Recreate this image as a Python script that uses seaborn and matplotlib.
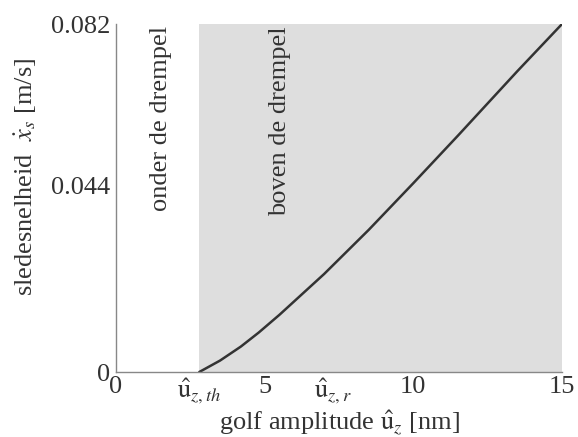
import matplotlib
matplotlib.use("Agg")
import matplotlib.pyplot as plt
import seaborn as sns
import pandas as pd

# curve
amplitude_nm = [2.8, 3.5, 4.2, 4.8, 5.5, 7.0, 8.5, 10.0, 11.5, 13.5, 15.0]
speed_ms = [0.0, 0.0027, 0.0060, 0.0093, 0.0135, 0.0231, 0.0335, 0.0445, 0.0557, 0.0709, 0.082]

threshold = 2.8
resonance = 7.3
x_max = 15
y_max = 0.082

x_ticks = [0, threshold, 5, resonance, 10, 15]
x_tick_labels = ["0", r"$\hat{\mathrm{u}}_{z,th}$", "5", r"$\hat{\mathrm{u}}_{z,r}$", "10", "15"]
y_ticks = [0, 0.044, 0.082]
y_tick_labels = ["0", "0.044", "0.082"]

sns.set_style("white")
plt.rcParams["font.family"] = ["Liberation Serif", "DejaVu Serif"]
plt.rcParams["mathtext.fontset"] = "stix"

df = pd.DataFrame({"amp": amplitude_nm, "speed": speed_ms})

fig = plt.figure(figsize=(5.78, 4.37), dpi=100)
ax = fig.add_axes([0.2007, 0.1487, 0.7716, 0.7963])

# region above threshold
ax.axvspan(threshold, x_max, color="#dedede", zorder=0, lw=0)

sns.lineplot(data=df, x="amp", y="speed", ax=ax, color="#333333", lw=1.8)

fs = 19
ax.set_xlim(0, x_max)
ax.set_ylim(0, y_max)
ax.set_xticks(x_ticks)
ax.set_xticklabels(x_tick_labels, fontsize=fs)
ax.set_yticks(y_ticks)
ax.set_yticklabels(y_tick_labels, fontsize=fs, color="#333333")
for lbl in ax.get_xticklabels():
    lbl.set_color("#333333")

ax.tick_params(axis="both", length=3, color="#999999", direction="out", pad=1)
ax.tick_params(axis="x", length=0, pad=3)

for side in ["top", "right"]:
    ax.spines[side].set_visible(False)
for side in ["left", "bottom"]:
    ax.spines[side].set_color("#888888")
    ax.spines[side].set_linewidth(1.0)

ax.set_xlabel(r"golf amplitude $\hat{\mathrm{u}}_z$ [nm]", fontsize=fs, color="#333333", labelpad=2)
ax.set_ylabel(r"sledesnelheid  $\dot{x}_s$ [m/s]", fontsize=fs, color="#333333")
ax.yaxis.set_label_coords(-0.173, 0.56)

ax.text(1.5, 0.0815, "onder de drempel", rotation=90, ha="center", va="top",
        fontsize=fs, color="#333333")
ax.text(5.5, 0.0815, "boven de drempel", rotation=90, ha="center", va="top",
        fontsize=fs, color="#333333")

fig.savefig("out.png", dpi=100)
